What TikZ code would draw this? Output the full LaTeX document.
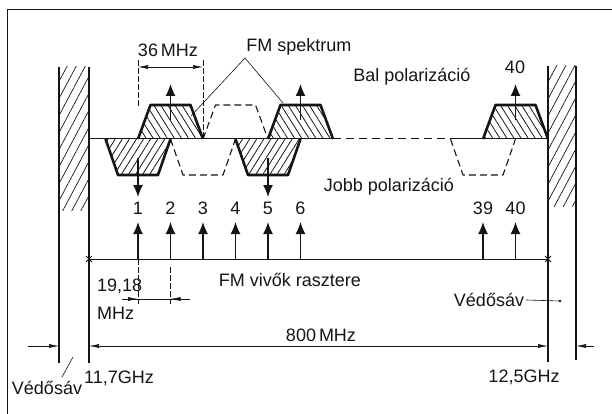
\documentclass[tikz,border=0pt]{standalone}
\usepackage{fontspec}
\setmainfont{Liberation Sans}
\usetikzlibrary{arrows.meta, patterns.meta, calc}
\definecolor{ink}{HTML}{151515}

\begin{document}
\begin{tikzpicture}[x=1pt, y=-1pt, line join=round,
  lbl/.style={text=ink, font=\fontsize{18}{28}\selectfont, inner sep=0pt},
  spec/.style={ink, line width=2.6pt},
  ghost/.style={ink, line width=1.1pt, dash pattern=on 7pt off 4pt},
  hatchup/.style={pattern={Lines[angle=-58, distance=6pt, line width=0.8pt]}, pattern color=ink},
  hatchdn/.style={pattern={Lines[angle=58, distance=6pt, line width=0.8pt]}, pattern color=ink},
  wallhatch/.style={pattern={Lines[angle=62, distance=8pt, line width=0.7pt]}, pattern color=ink},
  carrier/.style={ink, line width=1.3pt, -{Latex[length=12pt, width=10pt]}},
  dimline/.style={ink, line width=0.6pt},
  extline/.style={ink, line width=0.6pt, dash pattern=on 6pt off 2pt},
  dimtip/.style={{Latex[length=10pt, width=4pt]}-{Latex[length=10pt, width=4pt]}}]

\useasboundingbox (0,0) rectangle (612,414);

% Frame
\draw[ink, line width=0.8pt] (7,414) -- (7,9) -- (612,9);

% Guard walls
\fill[wallhatch] (59,67) rectangle (89,210);
\fill[wallhatch] (548,66) rectangle (576,206);
\draw[ink, line width=2pt] (59,67) -- (59,210) (89,67) -- (89,210);
\draw[ink, line width=2pt] (548,66) -- (548,206) (576,66) -- (576,206);
\draw[ink, line width=1.3pt] (59,210) -- (59,363) (89,210) -- (89,363);
\draw[ink, line width=1.3pt] (548,206) -- (548,362) (576,206) -- (576,360);

% Base line
\draw[ink, line width=1pt] (89,139) -- (333,139);
\draw[ink, line width=1pt, dash pattern=on 8pt off 5pt] (333,139) -- (453,139);
\draw[ink, line width=1pt] (453,139) -- (548,139);

% Left polarisation (upper) spectra
\foreach \c [count=\i] in {170.5,300.5,515.5}{
  \fill[hatchup] (\c-32.5,139) -- (\c-20,105) -- (\c+20,105) -- (\c+32.5,139) -- cycle;
  \draw[spec] (\c-32.5,139) -- (\c-20,105) -- (\c+20,105) -- (\c+32.5,139);
  \coordinate (ub\i) at (\c,120);
  \coordinate (ut\i) at (\c,84);
  \draw[carrier] (ub\i) -- (ut\i);
}
\draw[ghost] (203,139) -- (215.5,105) -- (255.5,105) -- (268,139);

% Right polarisation (lower) spectra
\foreach \c [count=\i] in {138,268}{
  \fill[hatchdn] (\c-32.5,139) -- (\c-20,175) -- (\c+20,175) -- (\c+32.5,139) -- cycle;
  \draw[spec] (\c-32.5,139) -- (\c-20,175) -- (\c+20,175) -- (\c+32.5,139);
  \coordinate (db\i) at (\c,158);
  \coordinate (dt\i) at (\c,197);
  \draw[carrier] (db\i) -- (dt\i);
}
\foreach \c in {203,483}{
  \draw[ghost] (\c-32.5,139) -- (\c-20,175) -- (\c+20,175) -- (\c+32.5,139);
}

% 36 MHz bandwidth
\node[lbl] (bw) at (168,50) {36\,MHz};
\coordinate (bwL) at (138,67);
\coordinate (bwR) at (203,67);
\draw[extline] (138,60) -- (138,107);
\draw[extline] (203,60) -- (203,137);
\draw[dimline, dimtip] (bwL) -- (bwR);

% Spectrum labels
\node[lbl] (spek) at (299,47) {FM spektrum};
\coordinate (fork) at (245,58);
\coordinate (spekA) at (191,116);
\coordinate (spekB) at (283,103);
\draw[dimline] (spekA) -- (fork) -- (spekB);
\node[lbl] (bal) at (412,77) {Bal polarizáció};
\node[lbl] (top40) at (515,67) {40};
\node[lbl] (jobb) at (389,187) {Jobb polarizáció};

% Carrier raster
\coordinate (rasL) at (89,259);
\coordinate (rasR) at (548,259);
\draw[dimline] (rasL) -- (rasR);
\foreach \p in {rasL,rasR}{
  \draw[ink, line width=1pt] ($(\p)+(-3,-3)$) -- ($(\p)+(3,3)$) ($(\p)+(-3,3)$) -- ($(\p)+(3,-3)$);
}
\foreach \n/\x in {1/138,2/170.5,3/203,4/235.5,5/268,6/300.5,39/483,40/515.5}{
  \node[lbl] (num\n) at (\x,208) {\n};
  \coordinate (cb\n) at (\x,259);
  \coordinate (ct\n) at (\x,222);
  \draw[carrier] (cb\n) -- (ct\n);
}
\node[lbl] (raster) at (290,280) {FM vivők rasztere};

% 19,18 MHz spacing
\draw[extline] (138,259) -- (138,304);
\draw[extline] (170.5,267) -- (170.5,304);
\coordinate (spL) at (122,299);
\coordinate (spR) at (190,299);
\draw[dimline] (spL) -- (spR);
\draw[dimline, -{Latex[length=10pt, width=4pt]}] (spL) -- (138,299);
\draw[dimline, -{Latex[length=10pt, width=4pt]}] (spR) -- (170.5,299);
\node[lbl, align=left, anchor=west] (spacing) at (97,299) {19,18\\MHz};

% 800 MHz band and guard bands
\coordinate (bandL) at (89,346);
\coordinate (bandR) at (548,346);
\draw[dimline, dimtip] (bandL) -- (bandR);
\node[lbl] (band) at (321,335) {800\,MHz};
\coordinate (gL) at (28,346);
\coordinate (gR) at (594,346);
\draw[dimline, -{Latex[length=10pt, width=4pt]}] (gL) -- (59,346);
\draw[dimline, -{Latex[length=10pt, width=4pt]}] (gR) -- (576,346);

% Frequencies and guard band labels
\node[lbl] (flo) at (119,378) {11,7GHz};
\node[lbl] (fhi) at (524,377) {12,5GHz};
\node[lbl] (vsl) at (47,388) {Védősáv};
\coordinate (vslA) at (62,377);
\coordinate (vslB) at (73,357);
\draw[dimline] (vslA) -- (vslB);
\node[lbl] (vsr) at (489,300) {Védősáv};
\coordinate (vsrdot) at (560,301);
\draw[dimline] (vsr.east) ++(2,0) -- (vsrdot);
\fill[ink] (vsrdot) circle (1.3pt);

\end{tikzpicture}
\end{document}
